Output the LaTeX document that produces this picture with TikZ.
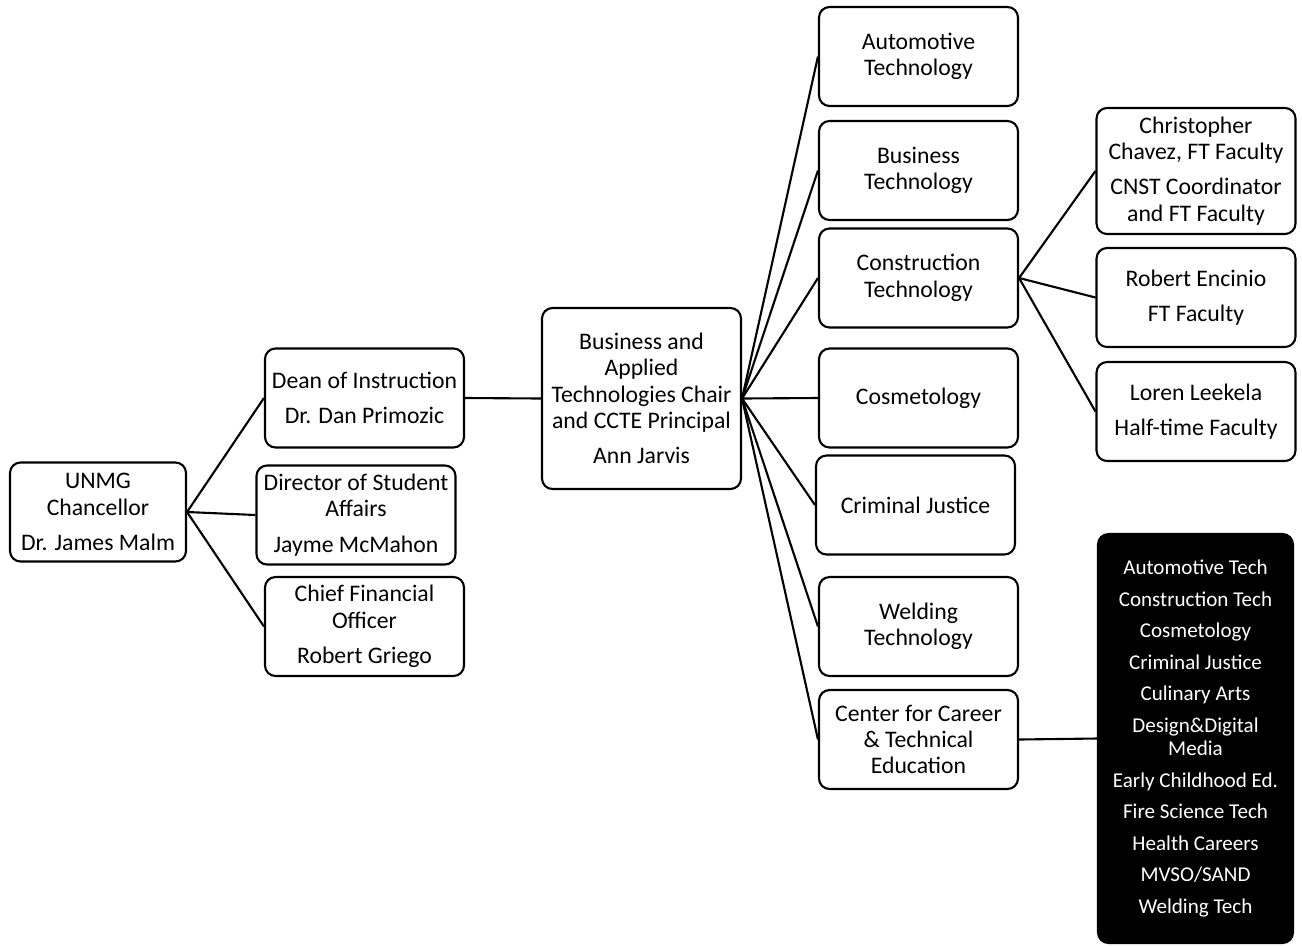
\documentclass[tikz,border=0pt]{standalone}
\usepackage{fontspec}
\setmainfont{Carlito}
\usepackage{tikz}

\begin{document}
\begin{tikzpicture}[
    line width=1.2pt,
    box/.style={draw, rounded corners=6pt, align=center, inner sep=1pt,
      minimum width=3.98cm, minimum height=1.98cm,
      font=\fontsize{13.5}{15}\selectfont},
    darkbox/.style={box, fill=black, text=white, minimum width=3.9cm,
      minimum height=8.18cm, font=\fontsize{12}{13}\selectfont}
  ]
         \useasboundingbox (0,0) rectangle (26.04,-18.9);

         \node[box, minimum width=3.52cm] at (1.96,-10.24) (A) {UNMG\\Chancellor\\[5pt]Dr. James Malm};
         \node[box] at (7.29,-7.96) (B) {Dean of Instruction\\[5pt]Dr. Dan Primozic};
         \node[box] at (7.12,-10.3) (C) {Director of Student\\Affairs\\[5pt]Jayme McMahon};
         \node[box] at (7.29,-12.53) (D) {Chief Financial\\Officer\\[5pt]Robert Griego};
         \node[box, minimum height=3.62cm] at (12.83,-7.97) (E) {Business and\\Applied\\Technologies Chair\\and CCTE Principal\\[5pt]Ann Jarvis};

         \node[box] at (18.37,-1.13) (F) {Automotive\\Technology};
         \node[box] at (18.37,-3.41) (G) {Business\\Technology};
         \node[box] at (18.37,-5.56) (H) {Construction\\Technology};
         \node[box] at (18.37,-7.96) (I) {Cosmetology};
         \node[box] at (18.31,-10.1) (J) {Criminal Justice};
         \node[box] at (18.37,-12.53) (K) {Welding\\Technology};
         \node[box] at (18.37,-14.79) (L) {Center for Career\\\& Technical\\Education};

         \node[box, minimum height=2.52cm] at (23.92,-3.42) (M) {Christopher\\Chavez, FT Faculty\\[5pt]CNST Coordinator\\and FT Faculty};
         \node[box] at (23.92,-5.95) (N) {Robert Encinio\\[5pt]FT Faculty};
         \node[box] at (23.92,-8.23) (O) {Loren Leekela\\[5pt]Half-time Faculty};

         \node[darkbox] at (23.91,-14.77) (P) {Automotive Tech\\[5pt]Construction Tech\\[5pt]Cosmetology\\[5pt]Criminal Justice\\[5pt]Culinary Arts\\[5pt]Design\&Digital\\Media\\[5pt]Early Childhood Ed.\\[5pt]Fire Science Tech\\[5pt]Health Careers\\[5pt]MVSO/SAND\\[5pt]Welding Tech};

         \foreach \n in {B,C,D} \draw (A.east) -- (\n.west);
         \draw (B.east) -- (E.west);
         \foreach \n in {F,G,H,I,J,K,L} \draw (E.east) -- (\n.west);
         \foreach \n in {M,N,O} \draw (H.east) -- (\n.west);
         \draw (L.east) -- (P.west);
      \end{tikzpicture}
\end{document}
